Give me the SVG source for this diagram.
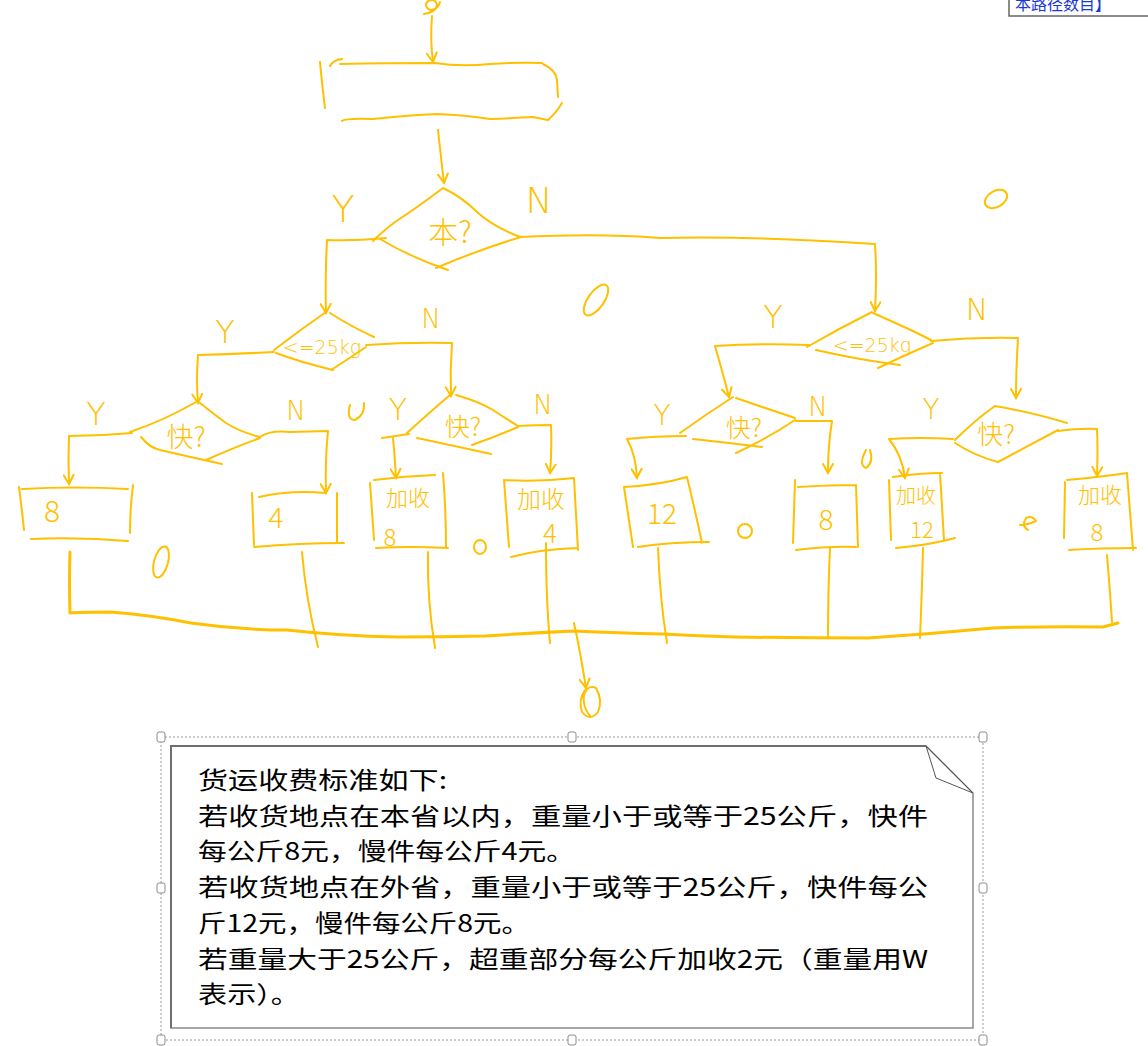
<svg xmlns="http://www.w3.org/2000/svg" width="1148" height="1046" viewBox="0 0 1148 1046">
<defs>
<style>
.h{fill:none;stroke:#FFC000;stroke-width:2;stroke-linecap:round;stroke-linejoin:round}
.b{stroke-width:3}
.t{fill:#FFC000;font-family:"Noto Sans CJK SC","DejaVu Sans",sans-serif;text-anchor:middle;font-weight:300}
.l{fill:#FFC000;font-family:"DejaVu Sans",sans-serif;text-anchor:middle;font-weight:200}
.n{font-family:"Noto Sans CJK SC","Liberation Sans",sans-serif;font-size:24px;fill:#000}
.hd{fill:#fff;stroke:#8c8c8c;stroke-width:1}
</style>
<marker id="a" viewBox="0 0 12 12" refX="10" refY="6" markerWidth="12" markerHeight="12" markerUnits="userSpaceOnUse" orient="auto">
<path d="M1,1 L10,6 L1,11" fill="none" stroke="#FFC000" stroke-width="2" stroke-linecap="round"/>
</marker>
</defs>
<rect width="1148" height="1046" fill="#fff"/>

<g id="tab">
<rect x="1009" y="-6" width="145" height="22" fill="#fff" stroke="#666" stroke-width="1.5"/>
<text x="1015" y="10" font-family="Noto Sans CJK SC,sans-serif" font-size="16" fill="#1a3ad0">本路径数目】</text>
</g>

<g id="connectors">
<path class="h" marker-end="url(#a)" d="M432,16 Q430,40 433,62"/>
<path class="h" marker-end="url(#a)" d="M438,130 Q441,158 444,183"/>
<path class="h" marker-end="url(#a)" d="M386,238 Q355,241 327,240 Q325,280 326,313"/>
<path class="h" marker-end="url(#a)" d="M520,237 Q600,233 660,238 Q760,236 875,244 Q877,275 875,311"/>
<path class="h" marker-end="url(#a)" d="M274,352 Q235,354 198,355 Q196,380 198,403"/>
<path class="h" marker-end="url(#a)" d="M366,345 Q410,342 452,343 Q450,370 451,396"/>
<path class="h" marker-end="url(#a)" d="M132,433 Q100,436 69,436 Q68,460 69,484"/>
<path class="h" marker-end="url(#a)" d="M260,437 Q270,430 290,432 L328,431 Q325,460 326,493"/>
<path class="h" d="M409,434 Q396,436 382,438"/>
<path class="h" marker-end="url(#a)" d="M393,438 Q395,458 396,478"/>
<path class="h" marker-end="url(#a)" d="M518,426 Q535,425 551,425 Q552,450 550,473"/>
<path class="h" marker-end="url(#a)" d="M809,345 Q760,343 715,346 Q722,370 729,397"/>
<path class="h" marker-end="url(#a)" d="M931,341 Q975,337 1018,338 Q1016,370 1016,398"/>
<path class="h" marker-end="url(#a)" d="M686,436 Q655,436 627,439 Q636,455 637,478"/>
<path class="h" marker-end="url(#a)" d="M796,421 Q815,421 832,421 Q828,445 828,473"/>
<path class="h" marker-end="url(#a)" d="M953,439 Q920,437 889,439 Q902,455 905,478"/>
<path class="h" marker-end="url(#a)" d="M1058,431 Q1080,428 1097,429 Q1098,450 1097,476"/>
<path class="h b" d="M70,552 Q69,580 70,613 Q80,612 110,612 Q150,615 191,623 Q240,630 287,630 Q340,636 397,637 Q440,637 485,636 Q530,633 574,631 Q620,633 662,634 Q700,636 735,637 Q800,638 868,638 Q930,634 993,628 Q1050,626 1103,627 L1118,623"/>
<path class="h" d="M302,552 Q306,600 318,647"/>
<path class="h" d="M428,552 Q427,600 435,648"/>
<path class="h" d="M546,543 Q546,600 550,643"/>
<path class="h" d="M658,548 Q660,600 667,643"/>
<path class="h" d="M830,548 Q828,590 828,637"/>
<path class="h" d="M923,548 Q922,590 920,638"/>
<path class="h" d="M1107,555 Q1110,590 1112,622"/>
<path class="h" marker-end="url(#a)" d="M574,623 Q580,650 586,688"/>
<text class="l" x="343" y="222" font-size="38">Y</text>
<text class="l" x="539" y="213" font-size="36">N</text>
<text class="l" x="225" y="343" font-size="32">Y</text>
<text class="l" x="431" y="328" font-size="26">N</text>
<text class="l" x="96" y="425" font-size="32">Y</text>
<text class="l" x="296" y="420" font-size="26">N</text>
<text class="l" x="398" y="420" font-size="30">Y</text>
<text class="l" x="543" y="414" font-size="26">N</text>
<text class="l" x="773" y="328" font-size="32">Y</text>
<text class="l" x="977" y="320" font-size="30">N</text>
<text class="l" x="662" y="425" font-size="28">Y</text>
<text class="l" x="818" y="416" font-size="26">N</text>
<text class="l" x="931" y="419" font-size="28">Y</text>
</g>

<g id="start">
<path class="h" d="M424,14 Q436,12 437,5 Q436,-2 428,1 Q423,6 430,10 Q438,10 440,2"/>
</g>

<g id="process">
<path class="h" d="M320,62 Q322,85 325,108"/>
<path class="h" d="M330,66 Q333,60 342,59"/>
<path class="h" d="M340,64 Q390,63 435,63 Q460,67 490,64 Q520,62 542,63"/>
<path class="h" d="M543,64 Q556,70 557,80 L558,97"/>
<path class="h" d="M562,103 Q556,113 548,120"/>
<path class="h" d="M342,121 Q345,118 373,119 Q410,115 437,114 Q465,115 490,119 Q515,118 533,117 L548,120"/>
</g>

<g id="d_ben">
<path class="h" d="M443,188 Q418,207 395,222 Q382,232 373,241 M380,239 Q410,257 448,270 M436,268 Q478,250 521,237 M520,237 Q492,226 477,212 Q462,197 443,188"/>
<text class="t" x="450" y="243" font-size="30">本?</text>
</g>

<g id="d_w1">
<path class="h" d="M326,312 Q300,330 274,350 M330,313 Q350,326 374,337 M276,353 Q300,362 333,370 M331,370 Q350,358 366,347"/>
<text class="l" x="322" y="354" font-size="19">&lt;=25kg</text>
</g>

<g id="d_w2">
<path class="h" d="M872,312 Q840,328 807,347 M873,313 Q900,325 915,332 L931,340 M816,350 Q860,360 900,365 M878,368 Q905,355 933,343"/>
<text class="l" x="872" y="352" font-size="19">&lt;=25kg</text>
</g>

<g id="d_k1">
<path class="h" d="M196,402 Q165,420 130,432 M200,403 Q215,415 226,423 Q240,432 260,437 M141,437 Q150,448 160,450 Q190,457 222,464 M206,460 Q235,447 260,438"/>
<text class="t" x="186" y="447" font-size="27">快?</text>
</g>

<g id="d_k2">
<path class="h" d="M450,395 Q430,412 407,433 M456,395 Q480,402 493,410 Q505,418 518,426 M417,438 Q455,446 491,454 M472,445 Q495,437 518,427"/>
<text class="t" x="463" y="436" font-size="25">快?</text>
</g>

<g id="d_k3">
<path class="h" d="M733,397 Q705,415 680,433 M736,398 Q765,408 795,418 M693,439 Q730,443 762,447 M736,453 Q770,437 795,420"/>
<text class="t" x="744" y="437" font-size="25">快?</text>
</g>

<g id="d_k4">
<path class="h" d="M995,406 Q975,420 955,440 M995,406 Q1035,413 1067,423 M955,443 Q975,456 998,462 M998,462 Q1030,445 1058,430"/>
<text class="t" x="996" y="444" font-size="26">快?</text>
</g>

<g id="box1">
<path class="h" d="M22,489 Q75,486 128,489 M19,487 Q22,510 24,530 M133,485 Q130,510 130,533 M31,539 Q80,537 128,541"/>
<text class="t" x="52" y="522" font-size="30">8</text>
</g>
<g id="box2">
<path class="h" d="M259,497 Q290,490 326,493 M252,493 L254,545 M337,493 L337,542 M254,547 Q300,543 344,543"/>
<text class="t" x="276" y="528" font-size="28">4</text>
</g>
<g id="box3">
<path class="h" d="M374,480 Q405,476 435,475 M370,483 Q372,510 374,540 M443,473 Q446,510 446,548 M376,548 Q410,546 448,548"/>
<text class="t" x="408" y="506" font-size="22">加收</text>
<text class="t" x="390" y="546" font-size="24">8</text>
</g>
<g id="box4">
<path class="h" d="M504,480 L509,547 M504,480 Q540,482 574,478 M574,478 L578,550 M511,557 Q540,549 578,548"/>
<text class="t" x="541" y="508" font-size="24">加收</text>
<text class="t" x="550" y="543" font-size="26">4</text>
</g>
<g id="box5">
<path class="h" d="M624,487 L633,547 M624,487 Q660,485 687,477 M687,477 Q695,510 702,543 M638,547 Q670,542 709,542"/>
<text class="t" x="662" y="524" font-size="28">12</text>
</g>
<g id="box6">
<path class="h" d="M795,480 L793,543 M798,487 Q830,485 856,485 M856,485 L858,547 M796,550 Q830,546 856,547"/>
<text class="t" x="826" y="530" font-size="28">8</text>
</g>
<g id="box7">
<path class="h" d="M889,480 L891,540 M893,477 Q920,473 942,473 M940,473 L944,540 M896,548 Q930,545 955,538"/>
<text class="t" x="916" y="503" font-size="20">加收</text>
<text class="t" x="922" y="538" font-size="22">12</text>
</g>
<g id="box8">
<path class="h" d="M1065,482 L1064,538 M1067,480 Q1100,477 1127,473 M1127,473 Q1130,510 1133,550 M1069,550 Q1100,548 1136,548"/>
<text class="t" x="1100" y="503" font-size="22">加收</text>
<text class="t" x="1097" y="541" font-size="24">8</text>
</g>

<g id="end">
<path class="h" d="M585,690 Q578,700 582,712 Q590,722 598,712 Q603,700 596,688 Q588,684 584,695 Q582,706 590,716"/>
</g>

<g id="marks">
<ellipse class="h" cx="596" cy="300" rx="8" ry="18" transform="rotate(35 596 300)"/>
<ellipse class="h" cx="996" cy="199" rx="12" ry="8" transform="rotate(-30 996 199)"/>
<path class="h" d="M350,405 Q346,420 355,420 Q365,415 364,403"/>
<ellipse class="h" cx="161" cy="562" rx="7" ry="16" transform="rotate(15 161 562)"/>
<ellipse class="h" cx="480" cy="547" rx="6" ry="7"/>
<ellipse class="h" cx="745" cy="531" rx="7" ry="7"/>
<path class="h" d="M866,450 Q858,465 866,468 Q874,462 870,450"/>
<path class="h" d="M1020,525 Q1028,525 1036,521 Q1032,515 1026,518 Q1021,526 1028,530"/>
</g>

<g id="note">
<rect x="161" y="737" width="822" height="303" fill="none" stroke="#9a9a9a" stroke-width="1" stroke-dasharray="2,2"/>
<path d="M171,746 L926,746 L973,793 L973,1028 L171,1028 Z" fill="#fff" stroke="#8a8a8a" stroke-width="1.5"/>
<path d="M171,1028 L171,746 L926,746" fill="none" stroke="#6e6e6e" stroke-width="2"/>
<path d="M926,746 L936,778 L973,793" fill="none" stroke="#555" stroke-width="1"/>
<path d="M926,746 L973,793" fill="none" stroke="#555" stroke-width="1"/>
<rect class="hd" x="157" y="732" width="8" height="10" rx="2"/>
<rect class="hd" x="568" y="732" width="8" height="10" rx="2"/>
<rect class="hd" x="979" y="732" width="8" height="10" rx="2"/>
<rect class="hd" x="157" y="883" width="8" height="10" rx="2"/>
<rect class="hd" x="979" y="883" width="8" height="10" rx="2"/>
<rect class="hd" x="157" y="1035" width="8" height="10" rx="2"/>
<rect class="hd" x="568" y="1035" width="8" height="10" rx="2"/>
<rect class="hd" x="979" y="1035" width="8" height="10" rx="2"/>
<text class="n" x="198" y="789" textLength="249" lengthAdjust="spacingAndGlyphs">货运收费标准如下:</text>
<text class="n" x="198" y="825" textLength="730" lengthAdjust="spacingAndGlyphs">若收货地点在本省以内，重量小于或等于25公斤，快件</text>
<text class="n" x="198" y="860" textLength="377" lengthAdjust="spacingAndGlyphs">每公斤8元，慢件每公斤4元。</text>
<text class="n" x="198" y="896" textLength="730" lengthAdjust="spacingAndGlyphs">若收货地点在外省，重量小于或等于25公斤，快件每公</text>
<text class="n" x="198" y="932" textLength="332" lengthAdjust="spacingAndGlyphs">斤12元，慢件每公斤8元。</text>
<text class="n" x="198" y="968" textLength="730" lengthAdjust="spacingAndGlyphs">若重量大于25公斤，超重部分每公斤加收2元（重量用W</text>
<text class="n" x="198" y="1003" textLength="102" lengthAdjust="spacingAndGlyphs">表示）。</text>
</g>
</svg>
